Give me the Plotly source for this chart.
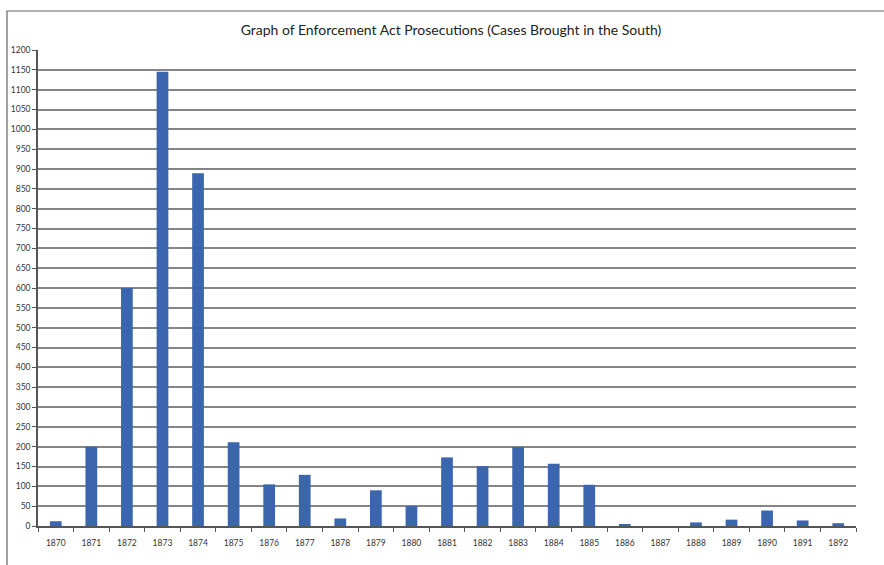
import plotly.graph_objects as go

# Enforcement Act prosecutions, cases brought in the South, by year
years = [str(y) for y in range(1870, 1893)]
cases = [12, 200, 600, 1145, 889, 211, 105, 129, 19, 90, 50, 173,
         151, 199, 157, 104, 4, 0, 9, 16, 39, 14, 7]

y_ticks = list(range(0, 1201, 50))

W, H = 884, 565
ml, mr, mt, mb = 38, 28, 50, 39
pw, ph = W - ml - mr, H - mt - mb

FONT = "Lato, Open Sans, sans-serif"


def px_to_paper_x(px):
    return (px - ml) / pw


def px_to_paper_y(py):
    return (H - mb - py) / ph


fig = go.Figure(
    go.Bar(
        x=years,
        y=cases,
        marker=dict(color="#3b66ae", line=dict(width=0)),
        width=0.33,
        hoverinfo="x+y",
    )
)

fig.update_layout(
    width=W,
    height=H,
    margin=dict(l=ml, r=mr, t=mt, b=mb),
    paper_bgcolor="white",
    plot_bgcolor="white",
    showlegend=False,
    font=dict(family=FONT, color="#333333"),
    title=dict(
        text="Graph of Enforcement Act Prosecutions (Cases Brought in the South)",
        x=(451 / W),
        xanchor="center",
        y=1 - 30 / H,
        yanchor="middle",
        font=dict(size=14, color="#222222", family=FONT),
    ),
    shapes=[
        # outer chart frame
        dict(
            type="rect",
            xref="paper",
            yref="paper",
            x0=px_to_paper_x(7),
            x1=px_to_paper_x(W + 10),
            y0=px_to_paper_y(H + 10),
            y1=px_to_paper_y(11),
            line=dict(color="#666666", width=1.2),
            fillcolor="rgba(0,0,0,0)",
            layer="below",
        )
    ],
)

fig.update_xaxes(
    type="category",
    tickson="boundaries",
    ticks="outside",
    ticklen=4,
    tickcolor="#555555",
    ticklabelstandoff=8,
    showline=True,
    linecolor="#555555",
    linewidth=1.5,
    showgrid=False,
    tickfont=dict(size=8.5, color="#333333", family=FONT),
)

fig.update_yaxes(
    range=[0, 1200],
    tickvals=y_ticks,
    ticktext=[str(v) for v in y_ticks],
    ticks="outside",
    ticklen=4,
    tickcolor="#555555",
    showline=True,
    linecolor="#555555",
    linewidth=1.5,
    showgrid=True,
    gridcolor="#858585",
    gridwidth=1.5,
    zeroline=False,
    tickfont=dict(size=8.5, color="#333333", family=FONT),
)

fig.write_html("out.html")
